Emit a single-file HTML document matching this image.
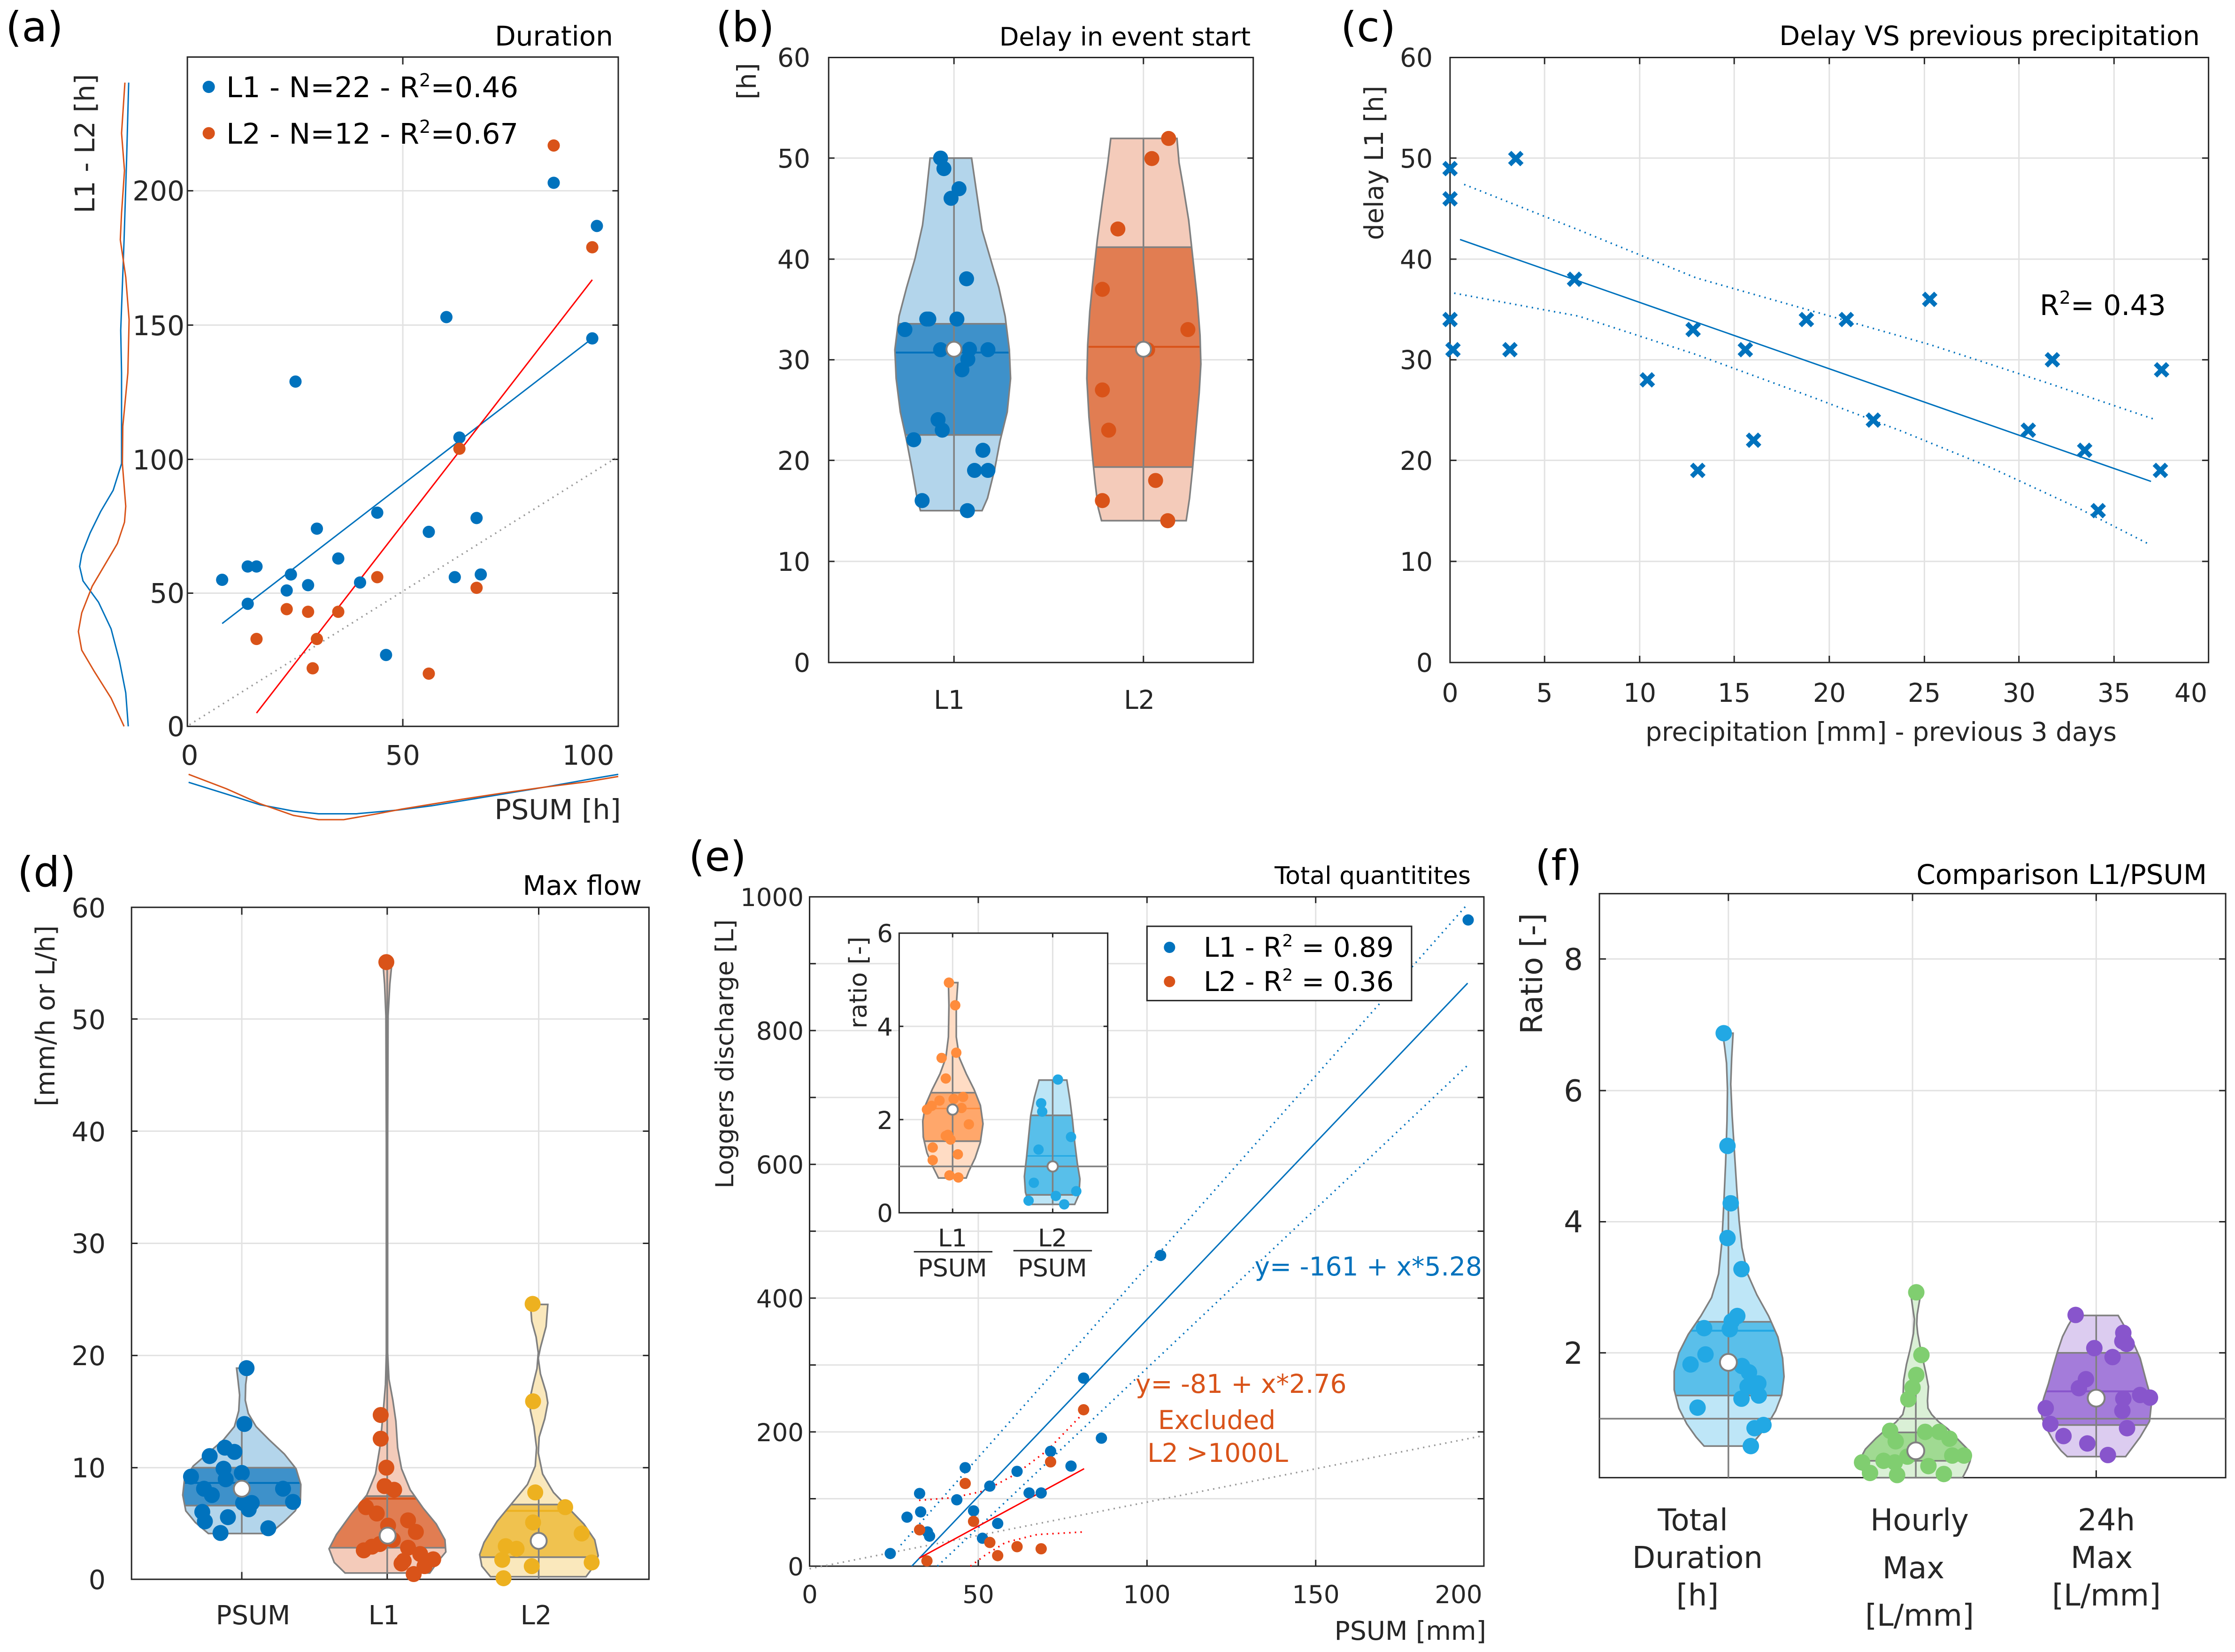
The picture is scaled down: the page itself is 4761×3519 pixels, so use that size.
<!DOCTYPE html>
<html><head><meta charset="utf-8"><style>
html,body{margin:0;padding:0;background:#fff}
svg{display:block}
.ns *{vector-effect:non-scaling-stroke}
.grid{stroke:#e2e2e2;stroke-width:3;fill:none}
.ax{stroke:#262626;stroke-width:3;fill:none}
.vo{stroke:#808080;stroke-width:3.5;fill:none}
.ln{fill:none;stroke-width:3}
.dt{fill:none;stroke-width:3.5;stroke-dasharray:3 9}
.md{fill:#fff;stroke:#808080;stroke-width:4}
text{font-family:"DejaVu Sans","Liberation Sans",sans-serif;fill:#262626}
.k{fill:#000}
</style></head><body>
<svg width="4761" height="3519" viewBox="0 0 4761 3519" xmlns="http://www.w3.org/2000/svg">
<rect width="4761" height="3519" fill="#fff"/>

<!-- ===================== PANEL A ===================== -->
<g class="ns" transform="matrix(0.8929 0 0 1.1352 0 0)">
<path class="grid" d="M961 107V1363M447 1113H1475M447 862H1475M447 610H1475M447 358H1475"/>
<rect x="455" y="112" width="800" height="160" fill="#fff"/>
<rect class="ax" x="447" y="107" width="1028" height="1256"/>
<path class="ax" d="M447 1113h14M447 862h14M447 610h14M447 358h14M1475 1113h-14M1475 862h-14M1475 610h-14M1475 358h-14M961 1363v-14M961 107v14"/>
<path class="dt" stroke="#999" d="M452 1360L1468 860"/>
<path class="ln" stroke="#0072BD" d="M530 1170L1413 635"/>
<path class="ln" stroke="#FF0000" d="M612 1338L1413 525"/>
<polyline class="ln" stroke="#0072BD" points="307,155 302,300 296,450 288,620 290,700 290,870 270,920 240,960 215,1000 195,1040 190,1063 198,1090 235,1130 265,1180 285,1240 300,1300 306,1363"/>
<polyline class="ln" stroke="#D95319" points="298,155 290,250 297,320 290,400 287,450 300,520 308,600 305,700 293,800 292,870 300,950 297,980 280,1020 250,1060 220,1100 195,1150 187,1185 195,1220 225,1260 265,1310 296,1363"/>
<polyline class="ln" stroke="#0072BD" points="450,1468 540,1490 620,1510 700,1522 760,1527 850,1527 950,1520 1030,1512 1100,1503 1200,1490 1300,1477 1400,1463 1475,1453"/>
<polyline class="ln" stroke="#D95319" points="450,1453 540,1480 620,1508 700,1530 760,1538 820,1538 900,1527 960,1518 1030,1509 1100,1500 1200,1488 1300,1477 1400,1467 1475,1457"/>
<g fill="#0072BD">
<ellipse cx="530" cy="1088" rx="14.6" ry="11.5"/><ellipse cx="591" cy="1063" rx="14.6" ry="11.5"/><ellipse cx="612" cy="1063" rx="14.6" ry="11.5"/><ellipse cx="591" cy="1133" rx="14.6" ry="11.5"/><ellipse cx="694" cy="1078" rx="14.6" ry="11.5"/><ellipse cx="684" cy="1108" rx="14.6" ry="11.5"/><ellipse cx="705" cy="716" rx="14.6" ry="11.5"/><ellipse cx="735" cy="1098" rx="14.6" ry="11.5"/><ellipse cx="756" cy="992" rx="14.6" ry="11.5"/><ellipse cx="807" cy="1048" rx="14.6" ry="11.5"/><ellipse cx="859" cy="1093" rx="14.6" ry="11.5"/><ellipse cx="900" cy="962" rx="14.6" ry="11.5"/><ellipse cx="921" cy="1229" rx="14.6" ry="11.5"/><ellipse cx="1023" cy="998" rx="14.6" ry="11.5"/><ellipse cx="1065" cy="595" rx="14.6" ry="11.5"/><ellipse cx="1085" cy="1083" rx="14.6" ry="11.5"/><ellipse cx="1096" cy="821" rx="14.6" ry="11.5"/><ellipse cx="1137" cy="972" rx="14.6" ry="11.5"/><ellipse cx="1147" cy="1078" rx="14.6" ry="11.5"/><ellipse cx="1321" cy="343" rx="14.6" ry="11.5"/><ellipse cx="1413" cy="635" rx="14.6" ry="11.5"/><ellipse cx="1424" cy="424" rx="14.6" ry="11.5"/>
<ellipse cx="498" cy="163" rx="14.6" ry="11.5"/>
</g>
<g fill="#D95319">
<ellipse cx="612" cy="1199" rx="14.6" ry="11.5"/><ellipse cx="684" cy="1143" rx="14.6" ry="11.5"/><ellipse cx="735" cy="1148" rx="14.6" ry="11.5"/><ellipse cx="746" cy="1254" rx="14.6" ry="11.5"/><ellipse cx="756" cy="1199" rx="14.6" ry="11.5"/><ellipse cx="807" cy="1148" rx="14.6" ry="11.5"/><ellipse cx="900" cy="1083" rx="14.6" ry="11.5"/><ellipse cx="1023" cy="1264" rx="14.6" ry="11.5"/><ellipse cx="1096" cy="842" rx="14.6" ry="11.5"/><ellipse cx="1137" cy="1103" rx="14.6" ry="11.5"/><ellipse cx="1321" cy="273" rx="14.6" ry="11.5"/><ellipse cx="1413" cy="464" rx="14.6" ry="11.5"/>
<ellipse cx="498" cy="250" rx="14.6" ry="11.5"/>
</g>
</g>
<text class="k" x="12" y="88" font-size="88">(a)</text>
<text class="k" x="1306" y="97" font-size="58" text-anchor="end">Duration</text>
<g font-size="58" text-anchor="end">
<text x="393" y="1568">0</text><text x="393" y="1284">50</text><text x="393" y="1000">100</text><text x="393" y="714">150</text><text x="393" y="427">200</text>
</g>
<g font-size="58" text-anchor="middle">
<text x="404" y="1629">0</text><text x="858" y="1629">50</text><text x="1253" y="1629">100</text>
<text x="1188" y="1745" font-size="59">PSUM [h]</text>
<text transform="translate(201,306) rotate(-90)">L1 - L2 [h]</text>
</g>
<text class="k" x="482" y="207" font-size="61">L1 - N=22 - R<tspan dy="-23" font-size="38">2</tspan><tspan dy="23">=0.46</tspan></text>
<text class="k" x="482" y="306" font-size="61">L2 - N=12 - R<tspan dy="-23" font-size="38">2</tspan><tspan dy="23">=0.67</tspan></text>

<!-- ===================== PANEL B ===================== -->
<g class="ns" transform="matrix(0.8929 0 0 1.0204 1400 0)">
<defs>
<clipPath id="cb1"><polygon points="651,330 750,330 765,420 775,480 795,540 815,600 830,660 840,730 843,790 835,860 818,920 805,980 788,1040 775,1066 628,1066 620,1040 608,980 595,920 580,860 570,790 567,730 577,660 595,600 615,540 633,470 640,420"/></clipPath>
<clipPath id="cb2"><polygon points="1082,289 1240,289 1245,340 1255,390 1268,460 1278,540 1288,620 1295,700 1297,760 1293,820 1285,900 1277,980 1270,1040 1262,1087 1060,1087 1052,1060 1045,1010 1038,950 1030,870 1025,790 1027,720 1032,650 1040,580 1050,500 1062,420 1075,340"/></clipPath>
</defs>
<path class="grid" d="M708 120V1383M1160 120V1383M409 330H1422M409 541H1422M409 751H1422M409 961H1422M409 1172H1422"/>
<rect class="ax" x="409" y="120" width="1013" height="1263"/>
<path class="ax" d="M409 330h14M409 541h14M409 751h14M409 961h14M409 1172h14M1422 330h-14M1422 541h-14M1422 751h-14M1422 961h-14M1422 1172h-14M708 1383v-14M1160 1383v-14M708 120v14M1160 120v14"/>
<polygon fill="#B3D5EB" points="651,330 750,330 765,420 775,480 795,540 815,600 830,660 840,730 843,790 835,860 818,920 805,980 788,1040 775,1066 628,1066 620,1040 608,980 595,920 580,860 570,790 567,730 577,660 595,600 615,540 633,470 640,420"/>
<g clip-path="url(#cb1)"><rect x="550" y="676" width="310" height="232" fill="#3E91CA"/><path class="vo" d="M550 676H860M550 908H860"/><path stroke="#0072BD" stroke-width="4" d="M550 736H860"/></g>
<polygon class="vo" points="651,330 750,330 765,420 775,480 795,540 815,600 830,660 840,730 843,790 835,860 818,920 805,980 788,1040 775,1066 628,1066 620,1040 608,980 595,920 580,860 570,790 567,730 577,660 595,600 615,540 633,470 640,420"/>
<path class="vo" d="M708 330V1066"/>
<polygon fill="#F4CBBA" points="1082,289 1240,289 1245,340 1255,390 1268,460 1278,540 1288,620 1295,700 1297,760 1293,820 1285,900 1277,980 1270,1040 1262,1087 1060,1087 1052,1060 1045,1010 1038,950 1030,870 1025,790 1027,720 1032,650 1040,580 1050,500 1062,420 1075,340"/>
<g clip-path="url(#cb2)"><rect x="1010" y="516" width="300" height="459" fill="#E17D52"/><path class="vo" d="M1010 516H1310M1010 975H1310"/><path stroke="#D95319" stroke-width="4" d="M1010 724H1310"/></g>
<polygon class="vo" points="1082,289 1240,289 1245,340 1255,390 1268,460 1278,540 1288,620 1295,700 1297,760 1293,820 1285,900 1277,980 1270,1040 1262,1087 1060,1087 1052,1060 1045,1010 1038,950 1030,870 1025,790 1027,720 1032,650 1040,580 1050,500 1062,420 1075,340"/>
<path class="vo" d="M1160 289V1087"/>
<g fill="#0072BD">
<ellipse cx="676" cy="330" rx="17.9" ry="15.7"/><ellipse cx="684" cy="352" rx="17.9" ry="15.7"/><ellipse cx="720" cy="394" rx="17.9" ry="15.7"/><ellipse cx="701" cy="414" rx="17.9" ry="15.7"/><ellipse cx="738" cy="582" rx="17.9" ry="15.7"/><ellipse cx="643" cy="666" rx="17.9" ry="15.7"/><ellipse cx="648" cy="666" rx="17.9" ry="15.7"/><ellipse cx="715" cy="666" rx="17.9" ry="15.7"/><ellipse cx="591" cy="688" rx="17.9" ry="15.7"/><ellipse cx="676" cy="730" rx="17.9" ry="15.7"/><ellipse cx="745" cy="729" rx="17.9" ry="15.7"/><ellipse cx="789" cy="730" rx="17.9" ry="15.7"/><ellipse cx="741" cy="750" rx="17.9" ry="15.7"/><ellipse cx="727" cy="772" rx="17.9" ry="15.7"/><ellipse cx="670" cy="876" rx="17.9" ry="15.7"/><ellipse cx="680" cy="898" rx="17.9" ry="15.7"/><ellipse cx="612" cy="918" rx="17.9" ry="15.7"/><ellipse cx="777" cy="940" rx="17.9" ry="15.7"/><ellipse cx="757" cy="982" rx="17.9" ry="15.7"/><ellipse cx="789" cy="982" rx="17.9" ry="15.7"/><ellipse cx="632" cy="1045" rx="17.9" ry="15.7"/><ellipse cx="740" cy="1066" rx="17.9" ry="15.7"/>
</g>
<g fill="#D95319">
<ellipse cx="1220" cy="289" rx="17.9" ry="15.7"/><ellipse cx="1180" cy="331" rx="17.9" ry="15.7"/><ellipse cx="1099" cy="478" rx="17.9" ry="15.7"/><ellipse cx="1062" cy="604" rx="17.9" ry="15.7"/><ellipse cx="1266" cy="688" rx="17.9" ry="15.7"/><ellipse cx="1170" cy="730" rx="17.9" ry="15.7"/><ellipse cx="1062" cy="814" rx="17.9" ry="15.7"/><ellipse cx="1077" cy="898" rx="17.9" ry="15.7"/><ellipse cx="1189" cy="1003" rx="17.9" ry="15.7"/><ellipse cx="1062" cy="1045" rx="17.9" ry="15.7"/><ellipse cx="1218" cy="1087" rx="17.9" ry="15.7"/>
</g>
<ellipse class="md" cx="708" cy="729" rx="17.9" ry="15.7"/>
<ellipse class="md" cx="1160" cy="729" rx="17.9" ry="15.7"/>
</g>
<text class="k" x="1525" y="88" font-size="88">(b)</text>
<text class="k" x="2664" y="97" font-size="54" text-anchor="end">Delay in event start</text>
<g font-size="55" text-anchor="end">
<text x="1726" y="142">60</text><text x="1726" y="357">50</text><text x="1726" y="572">40</text><text x="1726" y="786">30</text><text x="1726" y="1001">20</text><text x="1726" y="1216">10</text><text x="1726" y="1431">0</text>
</g>
<g font-size="55" text-anchor="middle">
<text x="2022" y="1510">L1</text><text x="2427" y="1510">L2</text>
<text transform="translate(1610,173) rotate(-90)">[h]</text>
</g>

<!-- ===================== PANEL C ===================== -->
<g class="ns" transform="matrix(1.2506 0 0 1.0204 2800 0)">
<path class="grid" d="M392 120V1383M554 120V1383M715 120V1383M877 120V1383M1039 120V1383M1200 120V1383M1362 120V1383M231 330H1523M231 541H1523M231 751H1523M231 961H1523M231 1172H1523"/>
<rect class="ax" x="231" y="120" width="1292" height="1263"/>
<path class="ax" d="M231 330h11M231 541h11M231 751h11M231 961h11M231 1172h11M1523 330h-11M1523 541h-11M1523 751h-11M1523 961h-11M1523 1172h-11M392 1383v-14M554 1383v-14M715 1383v-14M877 1383v-14M1039 1383v-14M1200 1383v-14M1362 1383v-14M392 120v14M554 120v14M715 120v14M877 120v14M1039 120v14M1200 120v14M1362 120v14"/>
<path class="ln" stroke="#0072BD" d="M248 500L1425 1005"/>
<polyline class="dt" stroke="#0072BD" points="255,385 450,480 650,580 850,650 1050,720 1250,800 1430,875"/>
<polyline class="dt" stroke="#0072BD" points="238,612 450,660 650,740 850,830 1000,900 1150,975 1300,1060 1420,1135"/>
<path fill="none" stroke="#0072BD" stroke-width="10" d="M220.6 339.3l20.8 25.4m0-25.4l-20.8 25.4M220.6 402.3l20.8 25.4m0-25.4l-20.8 25.4M332.6 318.3l20.8 25.4m0-25.4l-20.8 25.4M220.6 654.3l20.8 25.4m0-25.4l-20.8 25.4M225.6 717.3l20.8 25.4m0-25.4l-20.8 25.4M322.6 717.3l20.8 25.4m0-25.4l-20.8 25.4M432.6 570.3l20.8 25.4m0-25.4l-20.8 25.4M556.6 780.3l20.8 25.4m0-25.4l-20.8 25.4M634.6 675.3l20.8 25.4m0-25.4l-20.8 25.4M642.6 969.3l20.8 25.4m0-25.4l-20.8 25.4M723.6 717.3l20.8 25.4m0-25.4l-20.8 25.4M737.6 906.3l20.8 25.4m0-25.4l-20.8 25.4M827.6 654.3l20.8 25.4m0-25.4l-20.8 25.4M895.6 654.3l20.8 25.4m0-25.4l-20.8 25.4M941.6 864.3l20.8 25.4m0-25.4l-20.8 25.4M1037.6 612.3l20.8 25.4m0-25.4l-20.8 25.4M1205.6 885.3l20.8 25.4m0-25.4l-20.8 25.4M1246.6 738.3l20.8 25.4m0-25.4l-20.8 25.4M1301.6 927.3l20.8 25.4m0-25.4l-20.8 25.4M1324.6 1053.3l20.8 25.4m0-25.4l-20.8 25.4M1432.6 759.3l20.8 25.4m0-25.4l-20.8 25.4M1430.6 969.3l20.8 25.4m0-25.4l-20.8 25.4"/>
</g>
<text class="k" x="2856" y="88" font-size="88">(c)</text>
<text class="k" x="4686" y="96" font-size="57" text-anchor="end">Delay VS previous precipitation</text>
<g font-size="55" text-anchor="end">
<text x="3052" y="142">60</text><text x="3052" y="357">50</text><text x="3052" y="572">40</text><text x="3052" y="786">30</text><text x="3052" y="1001">20</text><text x="3052" y="1216">10</text><text x="3052" y="1431">0</text>
</g>
<g font-size="55" text-anchor="middle">
<text x="3089" y="1495">0</text><text x="3290" y="1495">5</text><text x="3493" y="1495">10</text><text x="3694" y="1495">15</text><text x="3897" y="1495">20</text><text x="4099" y="1495">25</text><text x="4301" y="1495">30</text><text x="4503" y="1495">35</text><text x="4667" y="1495">40</text>
<text x="4007" y="1578">precipitation [mm] - previous 3 days</text>
<text transform="translate(2946,347) rotate(-90)">delay L1 [h]</text>
</g>
<text class="k" x="4345" y="671" font-size="60">R<tspan dy="-24" font-size="38">2</tspan><tspan dy="24">= 0.43</tspan></text>

<!-- ===================== PANEL D ===================== -->
<g class="ns" transform="matrix(0.9247 0 0 1.1218 0 1760)">
<defs>
<clipPath id="cd1"><polygon points="545,1029 571,1029 566,1060 565,1090 572,1115 590,1140 620,1165 655,1192 682,1220 693,1250 692,1280 680,1300 655,1320 622,1343 480,1343 450,1322 428,1300 421,1270 425,1240 445,1215 480,1190 515,1165 540,1140 550,1110 552,1080 548,1050"/></clipPath>
<clipPath id="cd2"><polygon points="882,258 903,258 898,300 894,360 893,600 893,1000 896,1050 905,1090 912,1130 916,1180 925,1220 945,1260 975,1295 1005,1325 1025,1355 1027,1378 1010,1395 990,1418 795,1418 770,1398 758,1372 775,1345 810,1305 845,1270 865,1230 875,1180 882,1120 888,1060 890,1000 890,600 889,360 886,300"/></clipPath>
<clipPath id="cd3"><polygon points="1222,908 1262,908 1258,950 1245,990 1240,1010 1245,1040 1258,1075 1262,1095 1255,1125 1242,1160 1240,1190 1250,1230 1275,1265 1310,1295 1345,1325 1370,1355 1378,1385 1368,1405 1350,1425 1130,1425 1110,1405 1105,1383 1115,1360 1145,1320 1180,1285 1215,1250 1233,1215 1236,1180 1230,1140 1222,1110 1220,1090 1228,1060 1237,1030 1240,1000 1235,970 1225,940"/></clipPath>
</defs>
<path class="grid" d="M557 154V1430M892 154V1430M1241 154V1430M303 366H1495M303 579H1495M303 792H1495M303 1005H1495M303 1218H1495"/>
<rect class="ax" x="303" y="154" width="1192" height="1276"/>
<path class="ax" d="M303 366h14M303 579h14M303 792h14M303 1005h14M303 1218h14M1495 366h-14M1495 579h-14M1495 792h-14M1495 1005h-14M1495 1218h-14M557 1430v-14M892 1430v-14M1241 1430v-14M557 154v14M892 154v14M1241 154v14"/>
<polygon fill="#B3D5EB" points="545,1029 571,1029 566,1060 565,1090 572,1115 590,1140 620,1165 655,1192 682,1220 693,1250 692,1280 680,1300 655,1320 622,1343 480,1343 450,1322 428,1300 421,1270 425,1240 445,1215 480,1190 515,1165 540,1140 550,1110 552,1080 548,1050"/>
<g clip-path="url(#cd1)"><rect x="410" y="1218" width="300" height="72" fill="#3E91CA"/><path class="vo" d="M410 1218H710M410 1290H710"/><path stroke="#0072BD" stroke-width="4" d="M410 1247H710"/></g>
<polygon class="vo" points="545,1029 571,1029 566,1060 565,1090 572,1115 590,1140 620,1165 655,1192 682,1220 693,1250 692,1280 680,1300 655,1320 622,1343 480,1343 450,1322 428,1300 421,1270 425,1240 445,1215 480,1190 515,1165 540,1140 550,1110 552,1080 548,1050"/>
<path class="vo" d="M557 1135V1343"/>
<polygon fill="#F4CBBA" points="882,258 903,258 898,300 894,360 893,600 893,1000 896,1050 905,1090 912,1130 916,1180 925,1220 945,1260 975,1295 1005,1325 1025,1355 1027,1378 1010,1395 990,1418 795,1418 770,1398 758,1372 775,1345 810,1305 845,1270 865,1230 875,1180 882,1120 888,1060 890,1000 890,600 889,360 886,300"/>
<g clip-path="url(#cd2)"><rect x="750" y="1272" width="290" height="98" fill="#E17D52"/><path class="vo" d="M750 1272H1040M750 1370H1040"/><path stroke="#D95319" stroke-width="4" d="M750 1277H1040"/></g>
<polygon class="vo" points="882,258 903,258 898,300 894,360 893,600 893,1000 896,1050 905,1090 912,1130 916,1180 925,1220 945,1260 975,1295 1005,1325 1025,1355 1027,1378 1010,1395 990,1418 795,1418 770,1398 758,1372 775,1345 810,1305 845,1270 865,1230 875,1180 882,1120 888,1060 890,1000 890,600 889,360 886,300"/>
<path class="vo" d="M892 258V1418"/>
<polygon fill="#FAE8BC" points="1222,908 1262,908 1258,950 1245,990 1240,1010 1245,1040 1258,1075 1262,1095 1255,1125 1242,1160 1240,1190 1250,1230 1275,1265 1310,1295 1345,1325 1370,1355 1378,1385 1368,1405 1350,1425 1130,1425 1110,1405 1105,1383 1115,1360 1145,1320 1180,1285 1215,1250 1233,1215 1236,1180 1230,1140 1222,1110 1220,1090 1228,1060 1237,1030 1240,1000 1235,970 1225,940"/>
<g clip-path="url(#cd3)"><rect x="1100" y="1288" width="290" height="100" fill="#F0C24F"/><path class="vo" d="M1100 1288H1390M1100 1388H1390"/><path stroke="#EDB120" stroke-width="4" d="M1100 1300H1390"/></g>
<polygon class="vo" points="1222,908 1262,908 1258,950 1245,990 1240,1010 1245,1040 1258,1075 1262,1095 1255,1125 1242,1160 1240,1190 1250,1230 1275,1265 1310,1295 1345,1325 1370,1355 1378,1385 1368,1405 1350,1425 1130,1425 1110,1405 1105,1383 1115,1360 1145,1320 1180,1285 1215,1250 1233,1215 1236,1180 1230,1140 1222,1110 1220,1090 1228,1060 1237,1030 1240,1000 1235,970 1225,940"/>
<path class="vo" d="M1241 1268V1430"/>
<g fill="#0072BD">
<ellipse cx="568" cy="1029" rx="18.4" ry="15.2"/><ellipse cx="563" cy="1135" rx="18.4" ry="15.2"/><ellipse cx="483" cy="1196" rx="18.4" ry="15.2"/><ellipse cx="518" cy="1180" rx="18.4" ry="15.2"/><ellipse cx="540" cy="1188" rx="18.4" ry="15.2"/><ellipse cx="440" cy="1235" rx="18.4" ry="15.2"/><ellipse cx="515" cy="1220" rx="18.4" ry="15.2"/><ellipse cx="557" cy="1228" rx="18.4" ry="15.2"/><ellipse cx="520" cy="1240" rx="18.4" ry="15.2"/><ellipse cx="470" cy="1258" rx="18.4" ry="15.2"/><ellipse cx="488" cy="1270" rx="18.4" ry="15.2"/><ellipse cx="652" cy="1258" rx="18.4" ry="15.2"/><ellipse cx="675" cy="1283" rx="18.4" ry="15.2"/><ellipse cx="580" cy="1285" rx="18.4" ry="15.2"/><ellipse cx="560" cy="1285" rx="18.4" ry="15.2"/><ellipse cx="573" cy="1297" rx="18.4" ry="15.2"/><ellipse cx="466" cy="1302" rx="18.4" ry="15.2"/><ellipse cx="472" cy="1320" rx="18.4" ry="15.2"/><ellipse cx="525" cy="1312" rx="18.4" ry="15.2"/><ellipse cx="508" cy="1342" rx="18.4" ry="15.2"/><ellipse cx="618" cy="1333" rx="18.4" ry="15.2"/>
</g>
<g fill="#D95319">
<ellipse cx="890" cy="258" rx="18.4" ry="15.2"/><ellipse cx="877" cy="1118" rx="18.4" ry="15.2"/><ellipse cx="877" cy="1163" rx="18.4" ry="15.2"/><ellipse cx="890" cy="1218" rx="18.4" ry="15.2"/><ellipse cx="886" cy="1253" rx="18.4" ry="15.2"/><ellipse cx="908" cy="1260" rx="18.4" ry="15.2"/><ellipse cx="843" cy="1293" rx="18.4" ry="15.2"/><ellipse cx="868" cy="1305" rx="18.4" ry="15.2"/><ellipse cx="940" cy="1318" rx="18.4" ry="15.2"/><ellipse cx="958" cy="1340" rx="18.4" ry="15.2"/><ellipse cx="894" cy="1328" rx="18.4" ry="15.2"/><ellipse cx="905" cy="1355" rx="18.4" ry="15.2"/><ellipse cx="875" cy="1363" rx="18.4" ry="15.2"/><ellipse cx="838" cy="1375" rx="18.4" ry="15.2"/><ellipse cx="857" cy="1368" rx="18.4" ry="15.2"/><ellipse cx="940" cy="1370" rx="18.4" ry="15.2"/><ellipse cx="968" cy="1382" rx="18.4" ry="15.2"/><ellipse cx="930" cy="1395" rx="18.4" ry="15.2"/><ellipse cx="998" cy="1392" rx="18.4" ry="15.2"/><ellipse cx="925" cy="1400" rx="18.4" ry="15.2"/><ellipse cx="953" cy="1420" rx="18.4" ry="15.2"/><ellipse cx="978" cy="1405" rx="18.4" ry="15.2"/>
</g>
<g fill="#EDB120">
<ellipse cx="1227" cy="907" rx="18.4" ry="15.2"/><ellipse cx="1228" cy="1092" rx="18.4" ry="15.2"/><ellipse cx="1233" cy="1265" rx="18.4" ry="15.2"/><ellipse cx="1302" cy="1293" rx="18.4" ry="15.2"/><ellipse cx="1228" cy="1322" rx="18.4" ry="15.2"/><ellipse cx="1340" cy="1343" rx="18.4" ry="15.2"/><ellipse cx="1165" cy="1367" rx="18.4" ry="15.2"/><ellipse cx="1190" cy="1372" rx="18.4" ry="15.2"/><ellipse cx="1157" cy="1393" rx="18.4" ry="15.2"/><ellipse cx="1363" cy="1398" rx="18.4" ry="15.2"/><ellipse cx="1225" cy="1405" rx="18.4" ry="15.2"/><ellipse cx="1160" cy="1428" rx="18.4" ry="15.2"/>
</g>
<ellipse class="md" cx="557" cy="1258" rx="18.4" ry="15.2"/>
<ellipse class="md" cx="893" cy="1347" rx="18.4" ry="15.2"/>
<ellipse class="md" cx="1241" cy="1357" rx="18.4" ry="15.2"/>
</g>
<text class="k" x="37" y="1888" font-size="88">(d)</text>
<text class="k" x="1367" y="1906" font-size="57" text-anchor="end">Max flow</text>
<g font-size="57" text-anchor="end">
<text x="225" y="1954">60</text><text x="225" y="2192">50</text><text x="225" y="2431">40</text><text x="225" y="2669">30</text><text x="225" y="2908">20</text><text x="225" y="3147">10</text><text x="225" y="3385">0</text>
</g>
<g font-size="56" text-anchor="middle">
<text x="539" y="3460">PSUM</text><text x="818" y="3460">L1</text><text x="1142" y="3460">L2</text>
<text transform="translate(116,2164) rotate(-90)">[mm/h or L/h]</text>
</g>

<!-- ===================== PANEL E ===================== -->
<g class="ns" transform="matrix(1.1161 0 0 1.1218 1450 1760)">
<defs>
<clipPath id="ce1"><polygon points="511,297 529,297 526,340 526,400 532,440 545,470 560,500 572,530 577,565 572,600 562,630 550,655 545,668 492,668 482,648 470,620 463,590 462,560 467,530 480,500 495,470 506,440 511,400 512,340"/></clipPath>
<clipPath id="ce2"><polygon points="684,482 737,482 743,520 748,560 752,600 757,640 762,670 760,700 752,718 665,718 658,695 656,665 660,630 664,590 668,550 675,515"/></clipPath>
</defs>
<path class="grid" d="M568 134V1405M890 134V1405M1212 134V1405M246 1277H1533M246 1150H1533M246 1023H1533M246 896H1533M246 769H1533M246 642H1533M246 515H1533M246 388H1533M246 261H1533"/>
<rect class="ax" x="246" y="134" width="1287" height="1271"/>
<path class="ax" d="M246 1277h12M246 1150h12M246 1023h12M246 896h12M246 769h12M246 642h12M246 515h12M246 388h12M246 261h12M1533 1277h-12M1533 1150h-12M1533 1023h-12M1533 896h-12M1533 769h-12M1533 642h-12M1533 515h-12M1533 388h-12M1533 261h-12M568 1405v-12M890 1405v-12M1212 1405v-12M568 134v12M890 134v12M1212 134v12"/>
<path class="dt" stroke="#999" d="M246 1410L1533 1157"/>
<path class="ln" stroke="#0072BD" d="M441 1405L1502 298"/>
<path class="dt" stroke="#0072BD" d="M420 1365L1500 150"/>
<path class="dt" stroke="#0072BD" d="M490 1405L1503 453"/>
<path class="ln" stroke="#FF0000" d="M455 1390L770 1220"/>
<polyline class="dt" stroke="#FF0000" points="455,1280 520,1275 580,1262 640,1230 700,1185 770,1113"/>
<polyline class="dt" stroke="#FF0000" points="553,1405 580,1385 620,1360 680,1345 770,1340"/>
<g fill="#0072BD">
<ellipse cx="1503" cy="178" rx="10.8" ry="10.7"/><ellipse cx="916" cy="815" rx="10.8" ry="10.7"/><ellipse cx="769" cy="1048" rx="10.8" ry="10.7"/><ellipse cx="803" cy="1162" rx="10.8" ry="10.7"/><ellipse cx="706" cy="1187" rx="10.8" ry="10.7"/><ellipse cx="745" cy="1215" rx="10.8" ry="10.7"/><ellipse cx="543" cy="1218" rx="10.8" ry="10.7"/><ellipse cx="642" cy="1225" rx="10.8" ry="10.7"/><ellipse cx="590" cy="1253" rx="10.8" ry="10.7"/><ellipse cx="456" cy="1267" rx="10.8" ry="10.7"/><ellipse cx="665" cy="1266" rx="10.8" ry="10.7"/><ellipse cx="688" cy="1266" rx="10.8" ry="10.7"/><ellipse cx="527" cy="1279" rx="10.8" ry="10.7"/><ellipse cx="458" cy="1302" rx="10.8" ry="10.7"/><ellipse cx="559" cy="1300" rx="10.8" ry="10.7"/><ellipse cx="432" cy="1312" rx="10.8" ry="10.7"/><ellipse cx="471" cy="1340" rx="10.8" ry="10.7"/><ellipse cx="475" cy="1348" rx="10.8" ry="10.7"/><ellipse cx="605" cy="1324" rx="10.8" ry="10.7"/><ellipse cx="576" cy="1352" rx="10.8" ry="10.7"/><ellipse cx="400" cy="1381" rx="10.8" ry="10.7"/>
</g>
<g fill="#D95319">
<ellipse cx="769" cy="1108" rx="10.8" ry="10.7"/><ellipse cx="706" cy="1207" rx="10.8" ry="10.7"/><ellipse cx="543" cy="1248" rx="10.8" ry="10.7"/><ellipse cx="456" cy="1336" rx="10.8" ry="10.7"/><ellipse cx="559" cy="1320" rx="10.8" ry="10.7"/><ellipse cx="590" cy="1360" rx="10.8" ry="10.7"/><ellipse cx="642" cy="1368" rx="10.8" ry="10.7"/><ellipse cx="688" cy="1372" rx="10.8" ry="10.7"/><ellipse cx="605" cy="1385" rx="10.8" ry="10.7"/><ellipse cx="470" cy="1395" rx="10.8" ry="10.7"/>
</g>
<!-- legend -->
<rect x="890" y="190" width="505" height="141" fill="#fff" stroke="#262626" stroke-width="3"/>
<ellipse cx="933" cy="230" rx="10.8" ry="10.7" fill="#0072BD"/>
<ellipse cx="933" cy="295" rx="10.8" ry="10.7" fill="#D95319"/>
<!-- inset -->
<rect x="417" y="203" width="398" height="531" fill="#fff"/>
<path class="grid" d="M519 203V734M710 203V734M417 557H815M417 380H815"/>
<rect class="ax" x="417" y="203" width="398" height="531"/>
<path class="ax" d="M417 557h8M417 380h8M815 557h-8M815 380h-8M519 734v-8M710 734v-8M519 203v8M710 203v8"/>
<polygon fill="#FFDCC4" points="511,297 529,297 526,340 526,400 532,440 545,470 560,500 572,530 577,565 572,600 562,630 550,655 545,668 492,668 482,648 470,620 463,590 462,560 467,530 480,500 495,470 506,440 511,400 512,340"/>
<g clip-path="url(#ce1)"><rect x="455" y="506" width="130" height="92" fill="#FFA76B"/><path class="vo" stroke-width="2.5" d="M455 506H585M455 598H585"/><path stroke="#FF8C3C" stroke-width="3" d="M455 536H585"/></g>
<polygon class="vo" stroke-width="2.5" points="511,297 529,297 526,340 526,400 532,440 545,470 560,500 572,530 577,565 572,600 562,630 550,655 545,668 492,668 482,648 470,620 463,590 462,560 467,530 480,500 495,470 506,440 511,400 512,340"/>
<polygon fill="#BCE5F6" points="684,482 737,482 743,520 748,560 752,600 757,640 762,670 760,700 752,718 665,718 658,695 656,665 660,630 664,590 668,550 675,515"/>
<g clip-path="url(#ce2)"><rect x="650" y="549" width="120" height="151" fill="#58BFEA"/><path class="vo" stroke-width="2.5" d="M650 549H770M650 700H770"/><path stroke="#22A8E4" stroke-width="3" d="M650 626H770"/></g>
<polygon class="vo" stroke-width="2.5" points="684,482 737,482 743,520 748,560 752,600 757,640 762,670 760,700 752,718 665,718 658,695 656,665 660,630 664,590 668,550 675,515"/>
<path class="vo" stroke-width="2.5" d="M417 646H815"/>
<path class="vo" stroke-width="2.5" d="M519 430V668M710 482V718"/>
<g fill="#FF8C3C">
<ellipse cx="512" cy="297" rx="9.9" ry="9.8"/><ellipse cx="524" cy="340" rx="9.9" ry="9.8"/><ellipse cx="498" cy="440" rx="9.9" ry="9.8"/><ellipse cx="526" cy="430" rx="9.9" ry="9.8"/><ellipse cx="506" cy="479" rx="9.9" ry="9.8"/><ellipse cx="494" cy="521" rx="9.9" ry="9.8"/><ellipse cx="539" cy="514" rx="9.9" ry="9.8"/><ellipse cx="521" cy="518" rx="9.9" ry="9.8"/><ellipse cx="479" cy="531" rx="9.9" ry="9.8"/><ellipse cx="470" cy="538" rx="9.9" ry="9.8"/><ellipse cx="536" cy="535" rx="9.9" ry="9.8"/><ellipse cx="550" cy="566" rx="9.9" ry="9.8"/><ellipse cx="510" cy="586" rx="9.9" ry="9.8"/><ellipse cx="506" cy="588" rx="9.9" ry="9.8"/><ellipse cx="515" cy="595" rx="9.9" ry="9.8"/><ellipse cx="481" cy="610" rx="9.9" ry="9.8"/><ellipse cx="529" cy="623" rx="9.9" ry="9.8"/><ellipse cx="481" cy="634" rx="9.9" ry="9.8"/><ellipse cx="513" cy="663" rx="9.9" ry="9.8"/><ellipse cx="530" cy="667" rx="9.9" ry="9.8"/>
</g>
<g fill="#22A8E4">
<ellipse cx="720" cy="481" rx="9.9" ry="9.8"/><ellipse cx="688" cy="526" rx="9.9" ry="9.8"/><ellipse cx="690" cy="542" rx="9.9" ry="9.8"/><ellipse cx="745" cy="590" rx="9.9" ry="9.8"/><ellipse cx="683" cy="614" rx="9.9" ry="9.8"/><ellipse cx="674" cy="677" rx="9.9" ry="9.8"/><ellipse cx="664" cy="711" rx="9.9" ry="9.8"/><ellipse cx="716" cy="702" rx="9.9" ry="9.8"/><ellipse cx="732" cy="718" rx="9.9" ry="9.8"/><ellipse cx="755" cy="693" rx="9.9" ry="9.8"/>
</g>
<ellipse class="md" stroke-width="3" cx="519" cy="538" rx="9.9" ry="9.8"/>
<ellipse class="md" stroke-width="3" cx="710" cy="646" rx="9.9" ry="9.8"/>
<path stroke="#262626" stroke-width="3" d="M445 808H595M635 806H785"/>
</g>
<text class="k" x="1467" y="1855" font-size="88">(e)</text>
<text class="k" x="3133" y="1883" font-size="52" text-anchor="end">Total quantitites</text>
<g font-size="53" text-anchor="end">
<text x="1712" y="3356">0</text><text x="1712" y="3070">200</text><text x="1712" y="2785">400</text><text x="1712" y="2500">600</text><text x="1712" y="2215">800</text><text x="1712" y="1930">1000</text>
<text x="1902" y="2603">0</text><text x="1902" y="2405">2</text><text x="1902" y="2206">4</text><text x="1902" y="2007">6</text>
<text x="3166" y="3493" font-size="55">PSUM [mm]</text>
</g>
<g font-size="53" text-anchor="middle">
<text x="1725" y="3415">0</text><text x="2084" y="3415">50</text><text x="2443" y="3415">100</text><text x="2803" y="3415">150</text><text x="3107" y="3415">200</text>
<text transform="translate(1562,2245) rotate(-90)">Loggers discharge [L]</text>
<text transform="translate(1846,2093) rotate(-90)" font-size="52">ratio [-]</text>
<text x="2029" y="2655" font-size="52">L1</text><text x="2029" y="2719" font-size="52">PSUM</text>
<text x="2242" y="2655" font-size="52">L2</text><text x="2242" y="2719" font-size="52">PSUM</text>
</g>
<text class="k" x="2564" y="2038" font-size="58">L1 - R<tspan dy="-22" font-size="36">2</tspan><tspan dy="22"> = 0.89</tspan></text>
<text class="k" x="2564" y="2111" font-size="58">L2 - R<tspan dy="-22" font-size="36">2</tspan><tspan dy="22"> = 0.36</tspan></text>
<text x="3157" y="2717" font-size="55" text-anchor="end" style="fill:#0072BD">y= -161 + x*5.28</text>
<text x="2419" y="2967" font-size="55" style="fill:#D95319">y= -81 + x*2.76</text>
<text x="2592" y="3044" font-size="55" text-anchor="middle" style="fill:#D95319">Excluded</text>
<text x="2594" y="3114" font-size="55" text-anchor="middle" style="fill:#D95319">L2 &gt;1000L</text>

<!-- ===================== PANEL F ===================== -->
<g class="ns" transform="matrix(0.99554 0 0 1.1218 3200 1760)">
<defs>
<clipPath id="cf1"><polygon points="472,393 494,393 491,440 489,490 492,550 497,620 502,690 507,750 513,800 525,850 545,890 570,930 590,970 600,1010 603,1045 598,1080 585,1110 565,1140 545,1162 530,1177 432,1177 415,1160 395,1135 378,1105 368,1070 368,1035 378,1000 398,965 425,930 448,895 463,850 470,790 474,720 478,640 481,560 482,500 480,450 476,420"/></clipPath>
<clipPath id="cf2"><polygon points="874,886 896,886 892,906 888,927 887,945 889,963 894,987 901,1016 907,1040 912,1064 910,1091 911,1105 919,1117 934,1131 953,1144 976,1165 996,1183 1003,1198 1001,1206 995,1220 985,1237 780,1237 770,1222 767,1206 767,1200 777,1183 800,1162 823,1144 842,1132 857,1117 862,1099 858,1076 859,1052 865,1022 873,993 880,963 882,936 878,912"/></clipPath>
<clipPath id="cf3"><polygon points="1224,929 1318,929 1345,970 1365,1010 1380,1060 1390,1090 1385,1130 1365,1160 1334,1197 1209,1197 1196,1186 1180,1168 1165,1144 1155,1123 1153,1105 1159,1085 1169,1058 1178,1028 1188,998 1199,969 1211,948"/></clipPath>
</defs>
<path class="grid" d="M484 128V1237M878 128V1237M1271 128V1237M208 252H1548M208 502H1548M208 751H1548M208 1000H1548"/>
<rect class="ax" x="208" y="128" width="1340" height="1109"/>
<path class="ax" d="M208 252h14M208 502h14M208 751h14M208 1000h14M1548 252h-14M1548 502h-14M1548 751h-14M1548 1000h-14M484 1237v-14M878 1237v-14M1271 1237v-14M484 128v14M878 128v14M1271 128v14"/>
<polygon fill="#BEE6F7" points="472,393 494,393 491,440 489,490 492,550 497,620 502,690 507,750 513,800 525,850 545,890 570,930 590,970 600,1010 603,1045 598,1080 585,1110 565,1140 545,1162 530,1177 432,1177 415,1160 395,1135 378,1105 368,1070 368,1035 378,1000 398,965 425,930 448,895 463,850 470,790 474,720 478,640 481,560 482,500 480,450 476,420"/>
<g clip-path="url(#cf1)"><rect x="360" y="941" width="250" height="140" fill="#5ABFEA"/><path class="vo" d="M360 941H610M360 1081H610"/><path stroke="#22A8E4" stroke-width="4" d="M360 958H610"/></g>
<polygon class="vo" points="472,393 494,393 491,440 489,490 492,550 497,620 502,690 507,750 513,800 525,850 545,890 570,930 590,970 600,1010 603,1045 598,1080 585,1110 565,1140 545,1162 530,1177 432,1177 415,1160 395,1135 378,1105 368,1070 368,1035 378,1000 398,965 425,930 448,895 463,850 470,790 474,720 478,640 481,560 482,500 480,450 476,420"/>
<polygon fill="#DAF0D6" points="874,886 896,886 892,906 888,927 887,945 889,963 894,987 901,1016 907,1040 912,1064 910,1091 911,1105 919,1117 934,1131 953,1144 976,1165 996,1183 1003,1198 1001,1206 995,1220 985,1237 780,1237 770,1222 767,1206 767,1200 777,1183 800,1162 823,1144 842,1132 857,1117 862,1099 858,1076 859,1052 865,1022 873,993 880,963 882,936 878,912"/>
<g clip-path="url(#cf2)"><rect x="760" y="1151" width="250" height="54" fill="#A0DA92"/><path class="vo" d="M760 1151H1010M760 1205H1010"/></g>
<polygon class="vo" points="874,886 896,886 892,906 888,927 887,945 889,963 894,987 901,1016 907,1040 912,1064 910,1091 911,1105 919,1117 934,1131 953,1144 976,1165 996,1183 1003,1198 1001,1206 995,1220 985,1237 780,1237 770,1222 767,1206 767,1200 777,1183 800,1162 823,1144 842,1132 857,1117 862,1099 858,1076 859,1052 865,1022 873,993 880,963 882,936 878,912"/>
<polygon fill="#DCCCF0" points="1224,929 1318,929 1345,970 1365,1010 1380,1060 1390,1090 1385,1130 1365,1160 1334,1197 1209,1197 1196,1186 1180,1168 1165,1144 1155,1123 1153,1105 1159,1085 1169,1058 1178,1028 1188,998 1199,969 1211,948"/>
<g clip-path="url(#cf3)"><rect x="1140" y="1000" width="260" height="137" fill="#A47CDA"/><path class="vo" d="M1140 1000H1400M1140 1137H1400"/><path stroke="#8855CC" stroke-width="4" d="M1140 1073H1400"/></g>
<polygon class="vo" points="1224,929 1318,929 1345,970 1365,1010 1380,1060 1390,1090 1385,1130 1365,1160 1334,1197 1209,1197 1196,1186 1180,1168 1165,1144 1155,1123 1153,1105 1159,1085 1169,1058 1178,1028 1188,998 1199,969 1211,948"/>
<path class="vo" d="M208 1125H1548"/>
<path class="vo" d="M484 730V1237M885 1066V1237M1271 929V1197"/>
<g fill="#22A8E4">
<ellipse cx="474" cy="393" rx="17.6" ry="15.6"/><ellipse cx="482" cy="607" rx="17.6" ry="15.6"/><ellipse cx="489" cy="716" rx="17.6" ry="15.6"/><ellipse cx="482" cy="782" rx="17.6" ry="15.6"/><ellipse cx="512" cy="841" rx="17.6" ry="15.6"/><ellipse cx="503" cy="930" rx="17.6" ry="15.6"/><ellipse cx="432" cy="953" rx="17.6" ry="15.6"/><ellipse cx="491" cy="940" rx="17.6" ry="15.6"/><ellipse cx="487" cy="955" rx="17.6" ry="15.6"/><ellipse cx="435" cy="1003" rx="17.6" ry="15.6"/><ellipse cx="403" cy="1022" rx="17.6" ry="15.6"/><ellipse cx="513" cy="1025" rx="17.6" ry="15.6"/><ellipse cx="528" cy="1037" rx="17.6" ry="15.6"/><ellipse cx="548" cy="1058" rx="17.6" ry="15.6"/><ellipse cx="525" cy="1064" rx="17.6" ry="15.6"/><ellipse cx="512" cy="1087" rx="17.6" ry="15.6"/><ellipse cx="549" cy="1081" rx="17.6" ry="15.6"/><ellipse cx="418" cy="1104" rx="17.6" ry="15.6"/><ellipse cx="540" cy="1143" rx="17.6" ry="15.6"/><ellipse cx="559" cy="1137" rx="17.6" ry="15.6"/><ellipse cx="532" cy="1177" rx="17.6" ry="15.6"/>
</g>
<g fill="#80CE70">
<ellipse cx="886" cy="885" rx="17.6" ry="15.6"/><ellipse cx="897" cy="1004" rx="17.6" ry="15.6"/><ellipse cx="886" cy="1042" rx="17.6" ry="15.6"/><ellipse cx="878" cy="1066" rx="17.6" ry="15.6"/><ellipse cx="869" cy="1088" rx="17.6" ry="15.6"/><ellipse cx="830" cy="1148" rx="17.6" ry="15.6"/><ellipse cx="842" cy="1168" rx="17.6" ry="15.6"/><ellipse cx="905" cy="1150" rx="17.6" ry="15.6"/><ellipse cx="935" cy="1150" rx="17.6" ry="15.6"/><ellipse cx="957" cy="1163" rx="17.6" ry="15.6"/><ellipse cx="963" cy="1195" rx="17.6" ry="15.6"/><ellipse cx="988" cy="1195" rx="17.6" ry="15.6"/><ellipse cx="770" cy="1208" rx="17.6" ry="15.6"/><ellipse cx="816" cy="1205" rx="17.6" ry="15.6"/><ellipse cx="840" cy="1208" rx="17.6" ry="15.6"/><ellipse cx="867" cy="1197" rx="17.6" ry="15.6"/><ellipse cx="912" cy="1215" rx="17.6" ry="15.6"/><ellipse cx="787" cy="1228" rx="17.6" ry="15.6"/><ellipse cx="845" cy="1232" rx="17.6" ry="15.6"/><ellipse cx="945" cy="1230" rx="17.6" ry="15.6"/>
</g>
<g fill="#8855CC">
<ellipse cx="1227" cy="928" rx="17.6" ry="15.6"/><ellipse cx="1329" cy="962" rx="17.6" ry="15.6"/><ellipse cx="1327" cy="978" rx="17.6" ry="15.6"/><ellipse cx="1336" cy="983" rx="17.6" ry="15.6"/><ellipse cx="1267" cy="991" rx="17.6" ry="15.6"/><ellipse cx="1306" cy="1008" rx="17.6" ry="15.6"/><ellipse cx="1249" cy="1050" rx="17.6" ry="15.6"/><ellipse cx="1234" cy="1067" rx="17.6" ry="15.6"/><ellipse cx="1365" cy="1080" rx="17.6" ry="15.6"/><ellipse cx="1386" cy="1085" rx="17.6" ry="15.6"/><ellipse cx="1329" cy="1087" rx="17.6" ry="15.6"/><ellipse cx="1163" cy="1105" rx="17.6" ry="15.6"/><ellipse cx="1327" cy="1110" rx="17.6" ry="15.6"/><ellipse cx="1173" cy="1135" rx="17.6" ry="15.6"/><ellipse cx="1337" cy="1143" rx="17.6" ry="15.6"/><ellipse cx="1201" cy="1158" rx="17.6" ry="15.6"/><ellipse cx="1252" cy="1172" rx="17.6" ry="15.6"/><ellipse cx="1296" cy="1194" rx="17.6" ry="15.6"/>
</g>
<ellipse class="md" cx="484" cy="1018" rx="18.1" ry="16"/>
<ellipse class="md" cx="885" cy="1186" rx="18.1" ry="16"/>
<ellipse class="md" cx="1271" cy="1086" rx="18.1" ry="16"/>
</g>
<text class="k" x="3270" y="1874" font-size="88">(f)</text>
<text class="k" x="4701" y="1883" font-size="58" text-anchor="end">Comparison L1/PSUM</text>
<g font-size="64" text-anchor="end">
<text x="3372" y="2066">8</text><text x="3372" y="2346">6</text><text x="3372" y="2625">4</text><text x="3372" y="2905">2</text>
</g>
<g font-size="64" text-anchor="middle">
<text transform="translate(3285,2074) rotate(-90)">Ratio [-]</text>
<text x="3606" y="3260">Total</text><text x="3616" y="3340">Duration</text><text x="3616" y="3420">[h]</text>
<text x="4089" y="3260">Hourly</text><text x="4076" y="3362">Max</text><text x="4089" y="3463">[L/mm]</text>
<text x="4487" y="3260">24h</text><text x="4477" y="3340">Max</text><text x="4487" y="3420">[L/mm]</text>
</g>
</svg>
</body></html>
